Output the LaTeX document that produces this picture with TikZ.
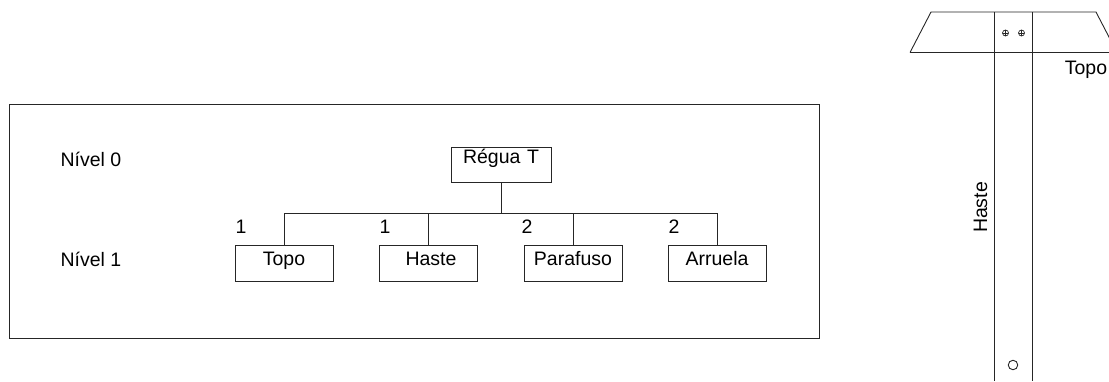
\documentclass[tikz,border=0pt]{standalone}
\usepackage{fontspec}
\setmainfont{Liberation Sans}
\tikzset{
  x=1pt,y=-1pt,
  ln/.style={draw=black!85,line width=0.9pt},
  txt/.style={inner sep=0pt,font=\fontsize{19.5}{22}\selectfont},
  partbox/.style={ln,inner sep=0pt,text width=98pt,align=center,text height=20pt,text depth=16pt,font=\fontsize{19.5}{22}\selectfont},
  rootbox/.style={ln,inner sep=0pt,text width=100pt,align=center,text height=16pt,text depth=19pt,font=\fontsize{19.5}{22}\selectfont},
  hole/.style={circle,ln,line width=0.7pt,minimum size=6pt,inner sep=0pt,path picture={\draw[line width=0.4pt] (path picture bounding box.north)--(path picture bounding box.south) (path picture bounding box.west)--(path picture bounding box.east);}},
  pin/.style={circle,ln,minimum size=9.5pt,inner sep=0pt}
}
\begin{document}
\begin{tikzpicture}
\useasboundingbox (0,0) rectangle (1109,381);
\node[ln,minimum width=810pt,minimum height=234pt,inner sep=0pt,anchor=north west] (frame) at (9,104) {};
\node[rootbox,anchor=north] (root) at (501,147) {Régua T};
\node[partbox,anchor=north] (topo) at (284,245) {Topo};
\node[partbox,anchor=north] (haste) at (428,245) {\hspace*{6pt}Haste};
\node[partbox,anchor=north] (parafuso) at (573,245) {Parafuso};
\node[partbox,anchor=north] (arruela) at (717,245) {Arruela};
\coordinate (bus) at (501,213);
\draw[ln] (root.south) -- (bus);
\draw[ln] (topo.north) -- (topo.north |- bus) -- (arruela.north |- bus) -- (arruela.north);
\draw[ln] (haste.north) -- (haste.north |- bus);
\draw[ln] (parafuso.north) -- (parafuso.north |- bus);
\node[txt,anchor=base] (n0) at (91,166) {Nível 0};
\node[txt,anchor=base] (n1) at (91,266) {Nível 1};
\node[txt,anchor=base] (c1) at (241,233) {1};
\node[txt,anchor=base] (c2) at (385,233) {1};
\node[txt,anchor=base] (c3) at (527,233) {2};
\node[txt,anchor=base] (c4) at (674,233) {2};
% T-square
\draw[ln] (910,52.5) -- (931,12) -- (1096,12) -- (1117,52.5);
\draw[ln] (910,52.5) -- (1109,52.5);
\draw[ln] (994.5,12) -- (994.5,381);
\draw[ln] (1032,12) -- (1032,381);
\node[hole] (h1) at (1005.5,33) {};
\node[hole] (h2) at (1021.5,33) {};
\node[pin] (h3) at (1013,365) {};
\node[txt,anchor=base] (ltopo) at (1086,74) {Topo};
\node[txt,anchor=base,rotate=90] (lhaste) at (987,207.5) {Haste};
\end{tikzpicture}
\end{document}
